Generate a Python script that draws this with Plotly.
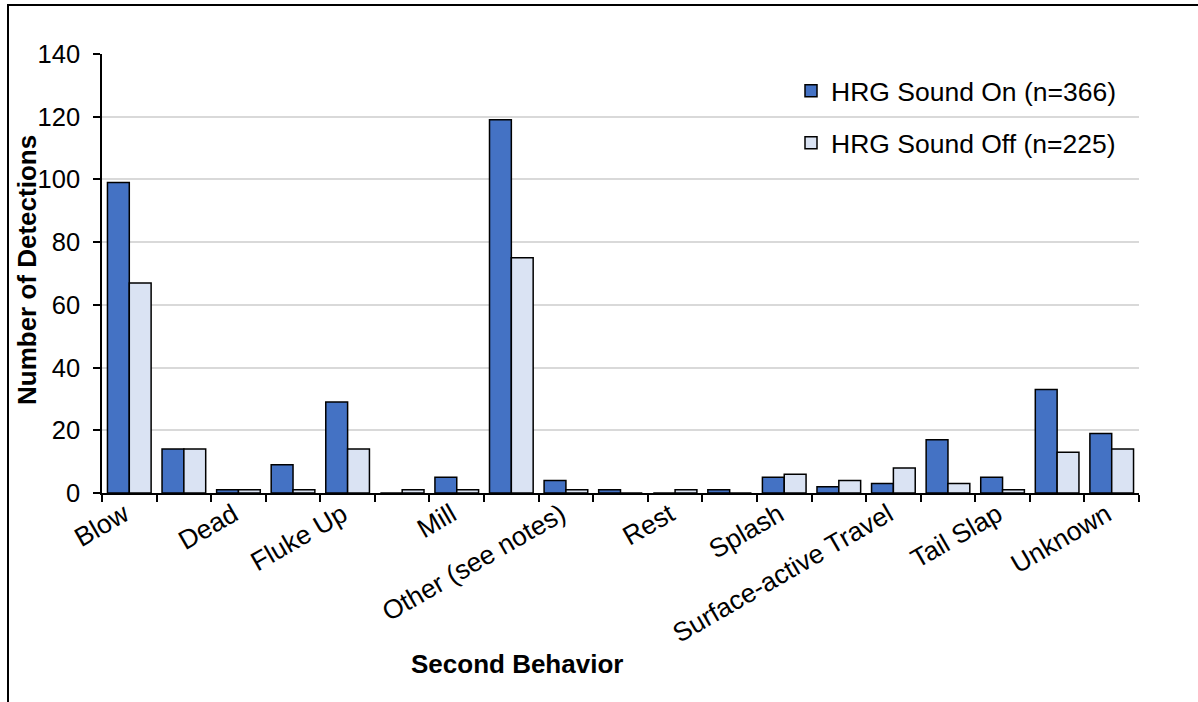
import plotly.graph_objects as go

categories = ["Blow", "Breach", "Dead", "Dive", "Fluke Up", "Logging", "Mill",
              "None", "Other (see notes)", "Pec Slap", "Rest", "Slow Travel",
              "Splash", "Spyhop", "Surface-active Travel", "Swim", "Tail Slap",
              "Travel", "Unknown"]
# Only every other category label is shown on the axis (as in the reference)
shown_labels = [c if i % 2 == 0 else "" for i, c in enumerate(categories)]

sound_on = [99, 14, 1, 9, 29, 0, 5, 119, 4, 1, 0, 1, 5, 2, 3, 17, 5, 33, 19]
sound_off = [67, 14, 1, 1, 14, 1, 1, 75, 1, 0, 1, 0, 6, 4, 8, 3, 1, 13, 14]

name_on = "HRG Sound On (n=366)"
name_off = "HRG Sound Off (n=225)"

FONT = "Liberation Sans, Arial, sans-serif"

fig = go.Figure()
fig.add_trace(go.Bar(x=categories, y=sound_on, name=name_on,
                     marker=dict(color="#4472C4", line=dict(color="black", width=1.5)),
                     legend="legend"))
fig.add_trace(go.Bar(x=categories, y=sound_off, name=name_off,
                     marker=dict(color="#DAE3F3", line=dict(color="black", width=1.5)),
                     legend="legend2"))

L, R, T, B = 102, 59, 54, 209
W, H = 1198, 702
pw, ph = W - L - R, H - T - B

def px_to_paper_x(px):
    return (px - L) / pw

def px_to_paper_y(py):
    return (H - B - py) / ph

fig.update_layout(
    width=W, height=H,
    margin=dict(l=L, r=R, t=T, b=B),
    paper_bgcolor="white", plot_bgcolor="white",
    font=dict(family=FONT, size=26, color="black"),
    barmode="group", bargap=0.2, bargroupgap=0,
    legend=dict(x=px_to_paper_x(791), y=px_to_paper_y(91), xanchor="left", yanchor="middle",
                bgcolor="rgba(0,0,0,0)", font=dict(size=26.5)),
    legend2=dict(x=px_to_paper_x(791), y=px_to_paper_y(143), xanchor="left", yanchor="middle",
                 bgcolor="rgba(0,0,0,0)", font=dict(size=26.5)),
    showlegend=True,
)

fig.update_xaxes(
    type="category",
    tickmode="array", tickvals=categories, ticktext=shown_labels,
    tickangle=-30, tickson="boundaries",
    ticks="outside", ticklen=7, tickwidth=1.5, tickcolor="black",
    showline=True, linecolor="black", linewidth=1.5,
    showgrid=False, tickfont=dict(size=26.5),
    ticklabelstandoff=-6, ticklabelshift=-5,
)
fig.update_yaxes(
    range=[0, 140], dtick=20,
    ticks="outside", ticklen=7, tickwidth=1.5, tickcolor="black",
    showline=True, linecolor="black", linewidth=1.5,
    showgrid=True, gridcolor="#d9d9d9", gridwidth=1.5,
    zeroline=False, tickfont=dict(size=25.5), ticklabelstandoff=8,
)

fig.add_annotation(text="<b>Second Behavior</b>", xref="paper", yref="paper",
                   x=px_to_paper_x(517), y=px_to_paper_y(664),
                   xanchor="center", yanchor="middle", showarrow=False,
                   font=dict(size=26))
fig.add_annotation(text="<b>Number of Detections</b>", xref="paper", yref="paper",
                   x=px_to_paper_x(27), y=px_to_paper_y(270), textangle=-90,
                   xanchor="center", yanchor="middle", showarrow=False,
                   font=dict(size=26))

# outer chart frame (top and left edges visible)
fig.add_shape(type="rect", xref="paper", yref="paper",
              x0=px_to_paper_x(8), x1=px_to_paper_x(1240),
              y0=px_to_paper_y(760), y1=px_to_paper_y(5),
              line=dict(color="black", width=2), fillcolor="rgba(0,0,0,0)", layer="below")

fig.write_html("out.html", config={"displayModeBar": False},
               post_script="document.body.style.margin='0';document.body.style.padding='0';")
